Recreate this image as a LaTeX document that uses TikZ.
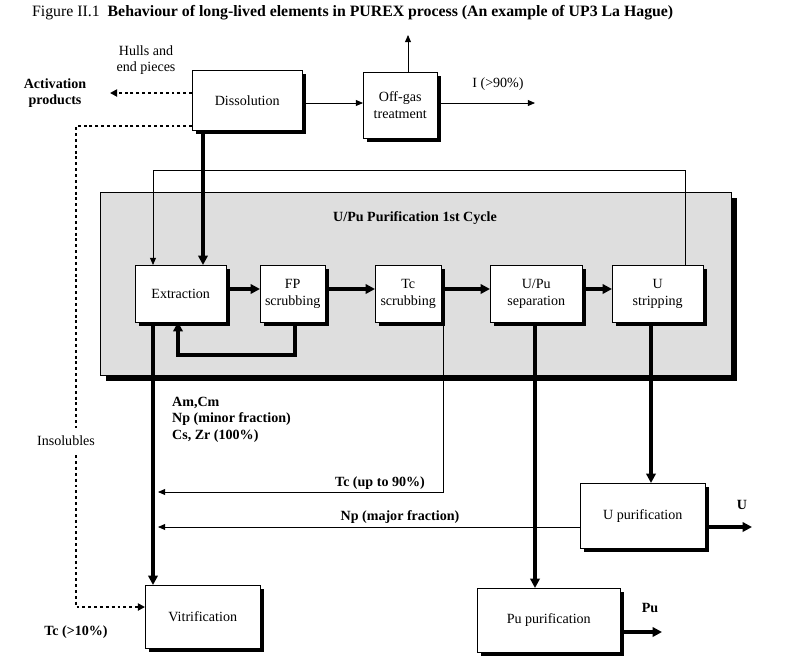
\documentclass[tikz,border=0pt]{standalone}
\usepackage{fontspec}
\setmainfont{Liberation Serif}
\usetikzlibrary{arrows.meta,positioning}
\tikzset{font={\fontsize{12}{14}\selectfont}}
\tikzstyle{box} = [draw=black, fill=white, align=center, inner sep=2pt]
\tikzstyle{thick arrow} = [line width=3.2pt, -{Triangle[length=8pt,width=8pt]}]
\tikzstyle{thin arrow} = [line width=0.7pt, -{Triangle[length=6pt,width=5pt]}]
\tikzstyle{dot arrow} = [line width=1.8pt, dash pattern=on 2.5pt off 2.5pt, -{Triangle[length=6pt,width=6pt]}]
\tikzstyle{lbl} = [anchor=center, font={\fontsize{12}{14}\selectfont\bfseries}]
\newcommand{\shbox}[6]{% name, x1, y1, x2, y2, text
  \fill[black] (#2+4,#3+4) rectangle (#4+4,#5+4);
  \node[box, minimum width={(#4-#2)*0.03cm}, minimum height={(#5-#3)*0.03cm}, anchor=north west] (#1) at (#2,#3) {#6};}

\begin{document}
\begin{tikzpicture}[x=0.03cm, y=-0.03cm]
  \useasboundingbox (0,0) rectangle (789,665);
  \node[anchor=west, font={\fontsize{13.5}{15}\selectfont}] (title) at (28,13)
    {Figure II.1\ \ \textbf{Behaviour of long-lived elements in PUREX process (An example of UP3 La Hague)}};

  % panel
  \fill[black] (106,198) rectangle (737,381);
  \filldraw[draw=black, fill=black!13] (100,192) rectangle (731,375);
  \node[lbl] (cycle) at (415,218) {U/Pu Purification 1st Cycle};

  % boxes
  \shbox{diss}{192}{70}{302}{130}{Dissolution}
  \shbox{offgas}{363}{72}{437}{138}{Off-gas\\treatment}
  \shbox{extr}{135}{265}{226}{322}{Extraction}
  \shbox{fp}{260}{265}{325}{322}{FP\\scrubbing}
  \shbox{tc}{375}{265}{441}{322}{Tc\\scrubbing}
  \shbox{sep}{490}{265}{582}{322}{U/Pu\\separation}
  \shbox{ustr}{612}{265}{703}{322}{U\\stripping}
  \shbox{upur}{580}{483}{705}{548}{U purification}
  \shbox{vitr}{145}{585}{260}{648}{Vitrification}
  \shbox{pupur}{477}{588}{620}{652}{Pu purification}

  % free ends
  \coordinate (gasup) at (408,35);
  \coordinate (iout) at (535,103);
  \coordinate (act) at (110,93);
  \coordinate (uout) at (752,527);
  \coordinate (puout) at (662,632);
  \coordinate (tcend) at (158,492);
  \coordinate (npend) at (158,527);

  % texts
  \node[align=center] (hulls) at (146,60) {Hulls and\\end pieces};
  \node[lbl, align=center] (actp) at (55,93) {Activation\\products};
  \node (iod) at (498,84) {I (>90\%)};
  \node[lbl] (tcten) at (76,632) {Tc (>10\%)};
  \node[lbl, align=left, anchor=north west] (hlw) at (168,393) {Am,Cm\\Np (minor fraction)\\Cs, Zr (100\%)};
  \node[lbl] (tcninety) at (380,483) {Tc (up to 90\%)};
  \node[lbl] (npmaj) at (400,517) {Np (major fraction)};
  \node[lbl] (ulbl) at (742,505) {U};
  \node[lbl] (pulbl) at (650,608) {Pu};

  % connectors
  \draw[thin arrow] (offgas.north -| gasup) -- (gasup);
  \draw[thin arrow] (diss.east |- 0,103) -- (offgas.west |- 0,103);
  \draw[thin arrow] (offgas.east |- 0,103) -- (iout);
  \draw[dot arrow] (diss.west |- act) -- (act);
  \draw[dot arrow] (diss.west |- 0,126) -| (76,607) -- (vitr.west |- 0,607);
  \fill[white] (30,428) rectangle (102,454);
  \node (insol) at (66,441) {Insolubles};
  \draw[thick arrow] (203,130) -- (203,265);
  \draw[thin arrow] (685,265) -- (685,170) -- (153,170) -- (153,265);
  \draw[thick arrow] (extr.east |- 0,289) -- (fp.west |- 0,289);
  \draw[thick arrow] (fp.east |- 0,289) -- (tc.west |- 0,289);
  \draw[thick arrow] (tc.east |- 0,289) -- (sep.west |- 0,289);
  \draw[thick arrow] (sep.east |- 0,289) -- (ustr.west |- 0,289);
  \draw[thick arrow] (295,322) -- (295,355) -- (178,355) -- (178,322);
  \draw[thick arrow] (153,322) -- (153,585);
  \draw[thin arrow] (443,322) -- (443,492) -- (tcend);
  \draw[thin arrow] (upur.west |- npend) -- (npend);
  \draw[thick arrow] (535,322) -- (535,588);
  \draw[thick arrow] (651,322) -- (651,483);
  \draw[thick arrow] (upur.east |- uout) -- (uout);
  \draw[thick arrow] (pupur.east |- puout) -- (puout);
\end{tikzpicture}
\end{document}
